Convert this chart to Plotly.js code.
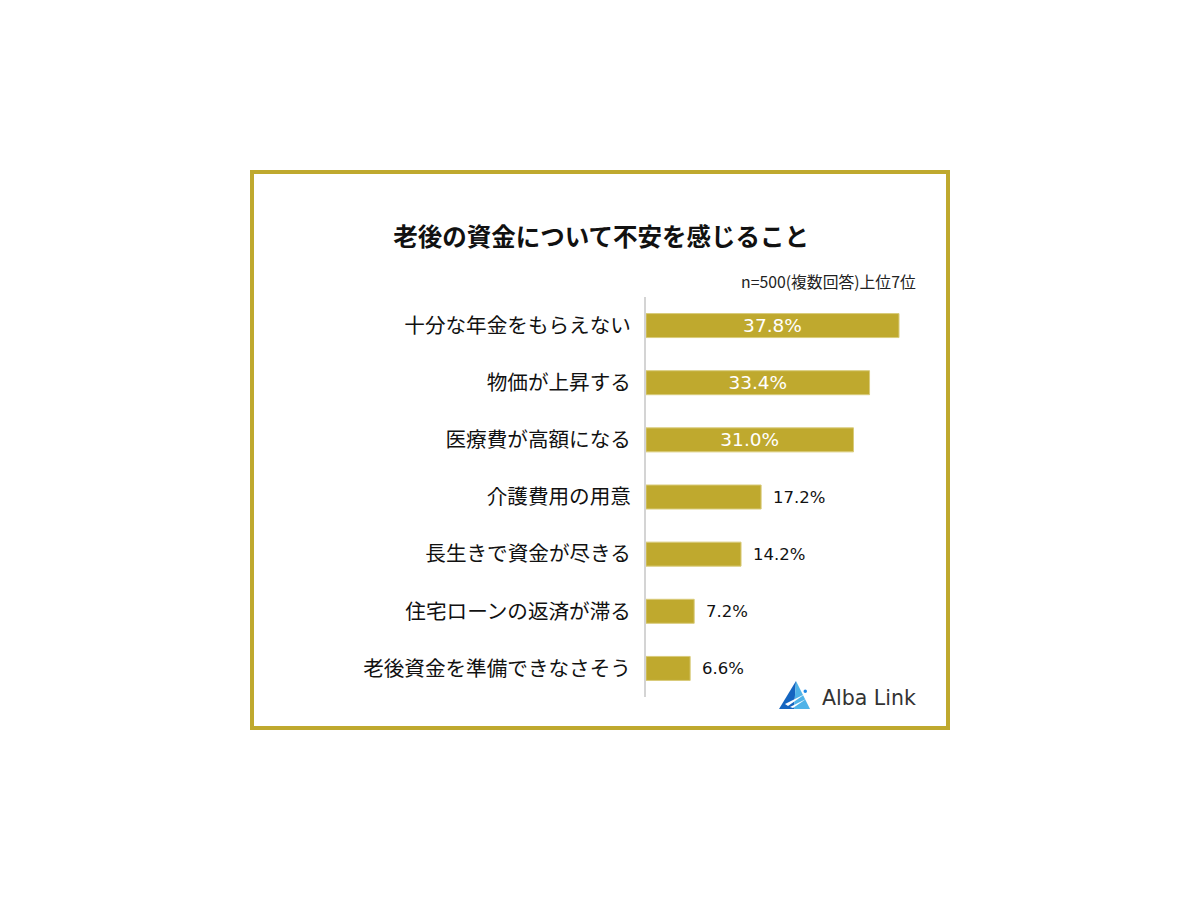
<!DOCTYPE html>
<html>
<head>
<meta charset="utf-8">
<script src="https://cdn.plot.ly/plotly-3.0.1.min.js"></script>
<style>html,body{margin:0;padding:0;background:#fff;}#chart{width:1200px;height:900px;}</style>
</head>
<body>
<div id="chart"></div>
<script>
const categories = ["十分な年金をもらえない","物価が上昇する","医療費が高額になる","介護費用の用意","長生きで資金が尽きる","住宅ローンの返済が滞る","老後資金を準備できなさそう"];
const values = [37.8, 33.4, 31.0, 17.2, 14.2, 7.2, 6.6];
const chartTitle = "老後の資金について不安を感じること";
const noteText = "n=500(複数回答)上位7位";
const brandText = "Alba Link";

const FONT = '"Noto Sans CJK JP", "Noto Sans", sans-serif';
const NUMFONT = '"DejaVu Sans", "Noto Sans", sans-serif';
const GOLD = '#BFA92E';

// plot area in pixels
const L = 646, R = 916, T = 297, B = 697;
const W = R - L, H = B - T;
const px = x => (x - L) / W;
const py = y => (B - y) / H;

const insideText = values.map(v => v > 20 ? v.toFixed(1) + '%' : '');

const trace = {
  type: 'bar',
  orientation: 'h',
  y: categories,
  x: values,
  marker: {color: GOLD, line: {color: '#D9CB7A', width: 1}},
  text: insideText,
  textposition: 'inside',
  insidetextanchor: 'middle',
  constraintext: 'none',
  textfont: {family: NUMFONT, size: 18.5, color: '#ffffff'},
  hoverinfo: 'none',
  cliponaxis: false
};

const annotations = [];
categories.forEach((c, i) => {
  if (values[i] <= 20) {
    annotations.push({
      x: values[i], y: c, xref: 'x', yref: 'y',
      text: values[i].toFixed(1) + '%',
      showarrow: false, xanchor: 'left', xshift: 10,
      font: {family: NUMFONT, size: 16.5, color: '#111'}
    });
  }
});
annotations.push({
  x: px(918), y: py(281), xref: 'paper', yref: 'paper',
  text: noteText, showarrow: false, xanchor: 'right', yanchor: 'middle',
  font: {family: FONT, size: 15.8, color: '#222'}
});
annotations.push({
  x: px(918), y: py(698), xref: 'paper', yref: 'paper',
  text: brandText, showarrow: false, xanchor: 'right', yanchor: 'middle',
  font: {family: NUMFONT, size: 20.5, color: '#333'}
});

const shapes = [
  {type: 'rect', xref: 'paper', yref: 'paper',
   x0: px(252), x1: px(948), y0: py(172), y1: py(728),
   line: {color: GOLD, width: 4}, fillcolor: 'rgba(0,0,0,0)', layer: 'below'},
  // logo triangle
  {type: 'path', xref: 'paper', yref: 'paper',
   path: `M ${px(796)} ${py(681)} L ${px(779)} ${py(709)} L ${px(794)} ${py(709)} Z`,
   fillcolor: '#1565C0', line: {width: 0}},
  {type: 'path', xref: 'paper', yref: 'paper',
   path: `M ${px(796)} ${py(681)} L ${px(794)} ${py(709)} L ${px(810)} ${py(709)} Z`,
   fillcolor: '#4FB3E8', line: {width: 0}},
  {type: 'path', xref: 'paper', yref: 'paper',
   path: `M ${px(785)} ${py(704)} L ${px(805)} ${py(694)} L ${px(788)} ${py(706)} Z`,
   fillcolor: '#ffffff', line: {width: 0}},
  {type: 'path', xref: 'paper', yref: 'paper',
   path: `M ${px(790)} ${py(707)} L ${px(806)} ${py(699)} L ${px(793)} ${py(708)} Z`,
   fillcolor: '#ffffff', line: {width: 0}},
  {type: 'circle', xref: 'paper', yref: 'paper',
   x0: px(803.5), x1: px(807), y0: py(689.5), y1: py(693),
   fillcolor: '#1E88E5', line: {width: 0}}
];

const layout = {
  width: 1200, height: 900,
  margin: {l: L, r: 1200 - R, t: T, b: 900 - B, pad: 0},
  paper_bgcolor: '#ffffff', plot_bgcolor: '#ffffff',
  showlegend: false,
  bargap: 0.58,
  title: {
    text: '<b>' + chartTitle + '</b>',
    xref: 'container', yref: 'container',
    x: 0.501, y: 1 - 237 / 900, xanchor: 'center', yanchor: 'middle',
    font: {family: FONT, size: 24.5, color: '#111'}
  },
  xaxis: {range: [0, W / (253 / 37.8)], visible: false, fixedrange: true},
  yaxis: {
    autorange: 'reversed',
    showline: true, linecolor: '#d4d4d4', linewidth: 2,
    showgrid: false, zeroline: false,
    ticks: '', ticklabelstandoff: 9,
    tickfont: {family: FONT, size: 20.6, color: '#111'},
    fixedrange: true
  },
  annotations: annotations,
  shapes: shapes
};

Plotly.newPlot('chart', [trace], layout, {displayModeBar: false, staticPlot: true});
</script>
</body>
</html>
